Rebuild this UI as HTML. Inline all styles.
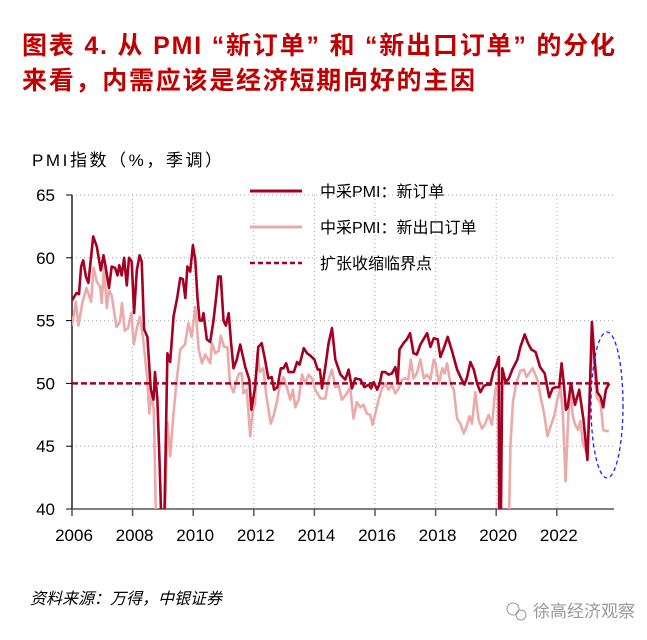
<!DOCTYPE html>
<html><head><meta charset="utf-8"><style>
html,body{margin:0;padding:0;background:#fff;width:647px;height:640px;overflow:hidden}
svg{display:block}
text{font-family:"Liberation Sans","Noto Sans CJK SC",sans-serif}
</style></head><body>
<svg id="chart" width="647" height="640" viewBox="0 0 647 640">
<text x="22" y="54" font-size="25" font-weight="bold" fill="#c00000" textLength="593" lengthAdjust="spacing">图表 4. 从 PMI “新订单” 和 “新出口订单” 的分化</text>
<text x="22" y="89" font-size="25" font-weight="bold" fill="#c00000" textLength="453" lengthAdjust="spacing">来看，内需应该是经济短期向好的主因</text>
<text x="32" y="166" font-size="17" fill="#000" textLength="190" lengthAdjust="spacing">PMI指数（%，季调）</text>
<g id="grid"></g>
<g id="axes"></g>
<defs><clipPath id="plotclip"><rect x="72" y="195" width="540" height="314"/></clipPath></defs>
<g id="series" clip-path="url(#plotclip)"></g>
<g id="legend">
<line x1="250" y1="191" x2="302" y2="191" stroke="#a50021" stroke-width="3"/>
<text x="320" y="197" font-size="16" fill="#000">中采PMI：新订单</text>
<line x1="250" y1="227" x2="302" y2="227" stroke="#ebaaaa" stroke-width="3"/>
<text x="320" y="233" font-size="16" fill="#000">中采PMI：新出口订单</text>
<line x1="250" y1="263" x2="302" y2="263" stroke="#a50021" stroke-width="2.5" stroke-dasharray="5,3"/>
<text x="320" y="269" font-size="16" fill="#000">扩张收缩临界点</text>
</g>
<ellipse cx="607" cy="405" rx="16" ry="73" fill="none" stroke="#1f1fff" stroke-width="1.3" stroke-dasharray="4,3"/>
<text x="30" y="604" font-size="16" font-style="italic" fill="#000">资料来源：万得，中银证券</text>
<g>
<circle cx="513" cy="609" r="6" fill="none" stroke="#999" stroke-width="1"/>
<circle cx="521" cy="615" r="5" fill="none" stroke="#999" stroke-width="1"/>
<text x="533" y="617" font-size="17" fill="#999">徐高经济观察</text>
</g>
</svg>
<script>
const yTicks=[40,45,50,55,60,65];
const xTicks=[2006,2008,2010,2012,2014,2016,2018,2020,2022];
const threshold=50;
const dates=[2006.0,2006.15,2006.23,2006.3,2006.37,2006.46,2006.54,2006.7,2006.82,2006.95,2007.04,2007.11,2007.22,2007.31,2007.42,2007.5,2007.56,2007.64,2007.72,2007.81,2007.88,2007.97,2008.05,2008.14,2008.23,2008.3,2008.38,2008.49,2008.6,2008.69,2008.74,2008.82,2008.89,2008.96,2009.04,2009.15,2009.24,2009.35,2009.48,2009.57,2009.66,2009.74,2009.81,2009.9,2009.99,2010.07,2010.14,2010.21,2010.29,2010.34,2010.45,2010.56,2010.67,2010.76,2010.83,2010.91,2011.0,2011.08,2011.17,2011.25,2011.33,2011.44,2011.55,2011.72,2011.85,2011.92,2012.04,2012.15,2012.26,2012.37,2012.48,2012.59,2012.67,2012.78,2012.89,2012.98,2013.07,2013.15,2013.32,2013.43,2013.51,2013.65,2013.76,2013.87,2014.0,2014.11,2014.18,2014.25,2014.36,2014.47,2014.58,2014.69,2014.86,2015.02,2015.13,2015.24,2015.35,2015.52,2015.65,2015.79,2015.87,2015.96,2016.07,2016.16,2016.23,2016.34,2016.45,2016.56,2016.67,2016.75,2016.81,2016.94,2017.05,2017.16,2017.27,2017.38,2017.5,2017.72,2017.83,2017.94,2018.07,2018.16,2018.27,2018.4,2018.55,2018.71,2018.84,2018.95,2019.04,2019.15,2019.26,2019.37,2019.48,2019.59,2019.7,2019.81,2019.9,2020.01,2020.09,2020.12,2020.2,2020.31,2020.42,2020.53,2020.7,2020.8,2020.94,2021.05,2021.16,2021.3,2021.45,2021.6,2021.75,2021.86,2021.97,2022.08,2022.16,2022.23,2022.3,2022.36,2022.47,2022.6,2022.74,2022.88,2023.01,2023.07,2023.16,2023.23,2023.34,2023.45,2023.53,2023.62,2023.73];
const newOrders=[56.6,57.2,57.1,59.3,59.8,58.5,58.0,61.7,60.9,59.0,60.2,59.3,57.6,59.3,59.2,58.6,59.4,58.6,60.0,57.8,60.0,59.7,55.6,59.0,60.2,59.7,54.3,53.7,49.5,48.7,50.9,48.7,43.6,38,38,52.4,51.7,55.3,56.9,58.4,58.3,56.8,59.3,58.9,61.0,59.8,56.9,55.0,55.0,55.6,53.5,53.3,55.0,56.9,58.5,58.5,55.0,54.6,55.6,53.2,51.2,51.9,53.1,51.3,50.3,47.9,49.7,52.9,53.2,51.9,50.4,50.5,49.5,49.7,51.2,51.2,51.6,50.9,50.9,51.7,51.5,52.8,52.4,52.2,51.9,51.1,51.1,49.6,51.3,53.2,54.4,51.9,50.7,50.3,51.1,49.6,50.4,50.3,49.7,49.9,49.6,50.1,49.5,50.0,50.9,50.9,50.7,50.8,51.3,50.1,52.7,53.2,53.5,54.0,52.4,52.3,53.1,54.0,52.9,53.6,53.5,52.1,52.8,53.7,52.5,51.1,50.4,49.9,50.5,51.7,51.1,50.0,49.3,49.8,49.9,49.9,50.9,51.5,52.1,30,51.2,50.1,50.4,51.1,51.9,52.9,53.9,53.2,52.7,52.5,51.3,50.8,48.9,49.6,49.7,49.7,51.6,50.0,47.9,48.1,50.0,48.3,49.5,47.1,43.9,47.6,54.9,52.4,49.3,48.9,48.1,49.5,50.0];
const exportDates=[2006.0,2006.13,2006.21,2006.34,2006.48,2006.63,2006.71,2006.82,2006.93,2006.98,2007.06,2007.15,2007.22,2007.31,2007.47,2007.58,2007.65,2007.74,2007.85,2007.96,2008.04,2008.15,2008.24,2008.35,2008.48,2008.55,2008.62,2008.7,2008.79,2008.88,2008.96,2009.04,2009.15,2009.24,2009.35,2009.46,2009.57,2009.73,2009.84,2009.95,2010.07,2010.18,2010.29,2010.4,2010.56,2010.62,2010.73,2010.84,2010.91,2011.02,2011.13,2011.21,2011.33,2011.44,2011.51,2011.6,2011.66,2011.77,2011.88,2011.97,2012.04,2012.12,2012.2,2012.31,2012.42,2012.56,2012.65,2012.76,2012.87,2012.98,2013.09,2013.2,2013.29,2013.37,2013.48,2013.59,2013.7,2013.81,2013.92,2014.03,2014.2,2014.36,2014.47,2014.58,2014.69,2014.8,2014.91,2015.07,2015.18,2015.29,2015.4,2015.51,2015.62,2015.73,2015.84,2015.92,2016.01,2016.12,2016.23,2016.34,2016.45,2016.56,2016.67,2016.78,2016.89,2016.99,2017.1,2017.18,2017.27,2017.38,2017.5,2017.61,2017.72,2017.83,2017.94,2018.0,2018.11,2018.22,2018.3,2018.38,2018.49,2018.6,2018.71,2018.82,2018.93,2019.04,2019.12,2019.2,2019.31,2019.42,2019.53,2019.64,2019.75,2019.86,2019.97,2020.05,2020.12,2020.2,2020.29,2020.4,2020.47,2020.55,2020.66,2020.8,2020.91,2021.0,2021.2,2021.36,2021.47,2021.58,2021.69,2021.8,2021.91,2022.02,2022.13,2022.2,2022.29,2022.38,2022.45,2022.52,2022.59,2022.7,2022.78,2022.86,2023.0,2023.05,2023.15,2023.23,2023.32,2023.45,2023.53,2023.62,2023.72];
const exportOrders=[54.6,56.5,54.6,56.4,57.6,56.5,59.2,58.1,57.7,56.4,59.3,56.0,57.4,57.0,54.5,54.9,56.4,54.2,54.4,55.6,53.1,54.5,55.3,53.5,50.5,47.6,49.2,47.9,37,37,37,37,46.9,44.2,47.6,50.3,52.7,53.1,54.8,53.7,56.1,52.7,51.6,52.3,51.6,53.2,52.4,52.6,53.8,52.9,52.9,50.0,49.3,50.3,50.8,50.8,49.2,49.5,45.8,47.9,48.4,52.4,50.9,51.2,48.9,46.8,47.4,48.5,50.0,50.5,49.7,48.7,49.5,48.1,48.7,50.7,50.0,50.7,50.4,49.5,48.8,48.8,50.3,51.1,49.7,49.8,48.7,49.2,49.7,47.2,48.5,48.1,48.3,47.6,47.5,46.7,47.6,48.7,49.6,50.0,49.5,49.9,49.2,49.6,50.3,50.4,50.3,51.9,50.4,50.8,51.9,50.4,50.7,50.3,51.9,51.6,50.0,51.2,50.8,51.6,50.0,49.5,47.2,46.8,46.0,46.7,47.4,46.8,49.3,47.1,46.4,46.8,47.5,46.7,49.5,50.0,28.7,38,35,36,45,48.5,50.0,51.0,51.1,50.5,51.2,50.3,48.9,47.6,45.8,46.6,47.4,48.7,49.7,47.4,42.2,47.4,50.0,47.5,46.8,46.3,47.0,45.2,44.4,47.3,53.7,51.3,48.9,48.4,46.3,46.2,46.2];

const NS='http://www.w3.org/2000/svg';
const X0=72,X1=614,Y40=509,Y65=195;
function xs(t){return X0+(t-2006)*30.3;}
function ys(v){return Y40-(v-40)*(Y40-Y65)/25;}
function mk(tag,attrs,parent){const e=document.createElementNS(NS,tag);for(const k in attrs)e.setAttribute(k,attrs[k]);parent.appendChild(e);return e;}
const grid=document.getElementById('grid'),axes=document.getElementById('axes'),series=document.getElementById('series');
yTicks.forEach(v=>{
  if(v!==40&&v!==50){const g=mk('line',{x1:X0,x2:X1,y1:ys(v),y2:ys(v),stroke:'#aaa','stroke-width':1,'stroke-dasharray':'1,3'},grid);
  
  }
  const tk=mk('line',{x1:X0-6,x2:X0,y1:ys(v),y2:ys(v),stroke:'#000','stroke-width':1},axes);
  
  
  const t=mk('text',{x:X0-17,y:ys(v)+6,'font-size':17,'text-anchor':'end',fill:'#000'},axes);
  t.textContent=v;
  
  
});
xTicks.forEach(yr=>{
  if(yr!==2006){const g=mk('line',{x1:xs(yr),x2:xs(yr),y1:Y65,y2:Y40,stroke:'#aaa','stroke-width':1,'stroke-dasharray':'1,3'},grid);
  
  }
  const tk=mk('line',{x1:xs(yr),x2:xs(yr),y1:Y40,y2:Y40+7,stroke:'#555','stroke-width':1.5},axes);
  
  
  const t=mk('text',{x:xs(yr)+2,y:541,'font-size':17,'text-anchor':'middle',fill:'#000'},axes);
  t.textContent=yr;
  
  
});
const ya=mk('line',{x1:X0,x2:X0,y1:Y65,y2:Y40,stroke:'#000','stroke-width':1.3},axes);


const xa=mk('line',{x1:X0,x2:X1,y1:Y40,y2:Y40,stroke:'#555','stroke-width':1.5},axes);


function pts(d,v){return d.map((t,i)=>xs(t).toFixed(1)+','+ys(v[i]).toFixed(1)).join(' ');}
const p2=mk('polyline',{points:pts(exportDates,exportOrders),fill:'none',stroke:'#ebaaaa','stroke-width':2.6,'stroke-linejoin':'round'},series);


const p1=mk('polyline',{points:pts(dates,newOrders),fill:'none',stroke:'#a50021','stroke-width':2.6,'stroke-linejoin':'round'},series);


const th=mk('line',{x1:X0,x2:xs(2023.75),y1:ys(threshold),y2:ys(threshold),stroke:'#a50021','stroke-width':2.5,'stroke-dasharray':'6,3'},series);


</script>
</body></html>
